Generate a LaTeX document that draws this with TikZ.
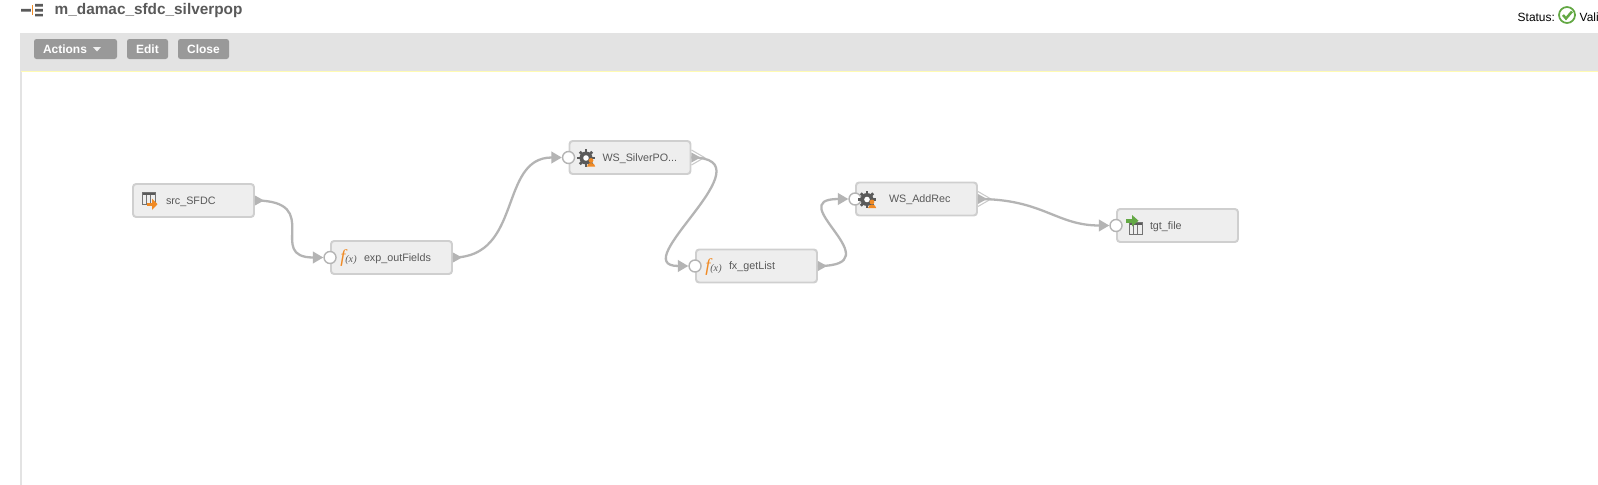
\documentclass[tikz,border=0pt]{standalone}
\usepackage{fontspec}
\setmainfont{Liberation Sans}
\newfontfamily\fxfont{Liberation Serif}
\usetikzlibrary{arrows.meta,positioning}

\definecolor{wiregray}{HTML}{B4B4B4}
\definecolor{boxfill}{HTML}{EEEEEE}
\definecolor{boxline}{HTML}{CFCFCF}
\definecolor{bargray}{HTML}{E3E3E3}
\definecolor{btngray}{HTML}{999999}
\definecolor{icondark}{HTML}{5A5A5A}
\definecolor{iconorange}{HTML}{F08A24}
\definecolor{icongreen}{HTML}{63A844}

\tikzset{
	>={Triangle[length=3pt,width=3.3pt]},
	stepbox/.style={draw=boxline, line width=0.55pt, fill=boxfill, rounded corners=0.9pt,
		minimum width=1.21cm, minimum height=0.33cm, text width=1.19cm, inner xsep=0pt, inner ysep=0pt,
		align=left, text=black!65, font=\fontsize{3.06}{3.6}\selectfont,
		text height=2.5pt, text depth=0.34pt,
		execute at begin node={\hspace*{0.32cm}}},
	portin/.style={circle, draw=wiregray, line width=0.4pt, fill=white, minimum size=0.12cm, inner sep=0pt},
	link/.style={->, wiregray, line width=0.65pt},
	btn/.style={fill=btngray, rounded corners=0.7pt, text=white, inner sep=0pt, minimum height=0.2cm,
		font=\fontsize{3.41}{4}\selectfont\bfseries},
	srctable/.pic={
		\fill[icondark] (-0.065,-0.06) rectangle (0.065,-0.03);
		\draw[icondark!85, line width=0.25pt] (-0.065,-0.06) rectangle (0.065,0.06)
			(-0.022,-0.03) -- (-0.022,0.06) (0.022,-0.03) -- (0.022,0.06);
	},
	fxicon/.pic={
		\node[text=iconorange, inner sep=0pt, font=\fxfont\itshape\fontsize{5.2}{6}\selectfont] (-f) at (-0.05,0) {f};
		\node[text=icondark, inner sep=0pt, font=\fxfont\itshape\fontsize{2.9}{3}\selectfont] (-x) at (0.03,0.02) {(x)};
	},
	gearicon/.pic={
		\foreach \a in {0,45,...,315}
			\draw[icondark, line width=0.75pt] (\a:0.05) -- (\a:0.088);
		\fill[icondark] (0,0) circle (0.065);
		\fill[white] (0,0) circle (0.028);
		\fill[iconorange] (0.05,0.025) circle (0.024);
		\fill[iconorange] (0.01,0.085) .. controls (0.012,0.04) and (0.09,0.04) .. (0.092,0.085) -- cycle;
	}
}

\newcommand{\outtip}[1]{\fill[wiregray] (#1.east) +(0,-0.05) -- +(0.09,0) -- +(0,0.05) -- cycle;}
\newcommand{\outfork}[1]{
	\draw[wiregray!70, line width=0.3pt] (#1.east) +(0,-0.075) -- +(0.13,0) -- +(0,0.075);
	\fill[wiregray] (#1.east) +(0,-0.05) -- +(0.09,0) -- +(0,0.05) -- cycle;
}

\begin{document}
\begin{tikzpicture}[y=-1cm]

	\useasboundingbox (0,0) rectangle (15.98,4.85);

	% page frame and bar
	\fill[white] (0,0) rectangle (15.98,4.85);
	\draw[bargray, line width=0.3pt] (0.21,0.33) -- (0.21,4.85);
	\fill[bargray] (0.21,0.33) rectangle (15.98,0.71);
	\draw[yellow!30!white, line width=0.3pt] (0.21,0.715) -- (15.98,0.715);

	% title
	\fill[icondark] (0.21,0.09) rectangle (0.31,0.115)
		(0.35,0.04) rectangle (0.43,0.065)
		(0.35,0.09) rectangle (0.43,0.115)
		(0.35,0.14) rectangle (0.43,0.165);
	\draw[iconorange, line width=0.2pt] (0.325,0.05) -- (0.325,0.155);
	\node[anchor=base west, inner sep=0pt, text=icondark, font=\fontsize{4.37}{5}\selectfont\bfseries] (title) at (0.54,0.14) {m\_damac\_sfdc\_silverpop};

	% status
	\node[anchor=base west, inner sep=0pt, font=\fontsize{3.4}{4}\selectfont] (status) at (15.17,0.21) {Status:};
	\draw[icongreen, line width=0.5pt, fill=white] (15.67,0.15) circle (0.08);
	\draw[icongreen, line width=0.7pt] (15.63,0.15) -- (15.66,0.185) -- (15.72,0.115);
	\node[anchor=base west, inner sep=0pt, font=\fontsize{3.4}{4}\selectfont] (valid) at (15.79,0.21) {Vali};

	% buttons
	\node[btn, minimum width=0.83cm] (actions) at (0.755,0.49) {\hspace*{-0.21cm}Actions};
	\fill[white!85!btngray] (0.93,0.47) -- (1.01,0.47) -- (0.97,0.515) -- cycle;
	\node[btn, minimum width=0.41cm] (edit) at (1.475,0.49) {Edit};
	\node[btn, minimum width=0.51cm] (close) at (2.035,0.49) {Close};

	% steps
	\node[stepbox] (src) at (1.935,2.005) {src\_SFDC};
	\node[stepbox] (exp) at (3.915,2.575) {exp\_outFields};
	\node[stepbox] (silver) at (6.30,1.575) {WS\_SilverPO...};
	\node[stepbox] (getlist) at (7.565,2.66) {fx\_getList};
	\node[stepbox] (addrec) at (9.165,1.99) {WS\_AddRec};
	\node[stepbox] (tgt) at (11.775,2.255) {tgt\_file};

	% input ports
	\node[portin] (expIn) at (exp.west) {};
	\node[portin] (silverIn) at (silver.west) {};
	\node[portin] (getlistIn) at (getlist.west) {};
	\node[portin] (addrecIn) at (addrec.west) {};
	\node[portin] (tgtIn) at (tgt.west) {};

	% output ports
	\outtip{src}
	\outtip{exp}
	\outfork{silver}
	\outtip{getlist}
	\outfork{addrec}

	% icons
	\pic at (1.485,1.98) {srctable};
	\fill[iconorange] (1.47,2.025) rectangle (1.53,2.06);
	\fill[iconorange] (1.52,1.985) -- (1.575,2.042) -- (1.52,2.10) -- cycle;
	\pic (expIcon) at (3.48,2.585) {fxicon};
	\pic (getlistIcon) at (7.13,2.67) {fxicon};
	\pic at (5.86,1.58) {gearicon};
	\pic at (8.67,1.995) {gearicon};
	\pic at (11.355,2.28) {srctable};
	\fill[icongreen] (11.26,2.19) rectangle (11.33,2.225);
	\fill[icongreen] (11.32,2.15) -- (11.385,2.207) -- (11.32,2.265) -- cycle;

	% connectors
	\draw[link] (src.east) .. controls +(0.7,0) and +(-0.65,0) .. (expIn);
	\draw[link] (exp.east) .. controls +(0.7,0) and +(-0.7,0) .. (silverIn);
	\draw[link] (silver.east) .. controls +(0.82,0) and +(-0.72,0) .. (getlistIn);
	\draw[link] (getlist.east) .. controls +(0.78,0) and +(-0.75,0) .. (addrecIn);
	\draw[link] (addrec.east) .. controls +(0.65,0) and +(-0.6,0) .. (tgtIn);

\end{tikzpicture}
\end{document}
